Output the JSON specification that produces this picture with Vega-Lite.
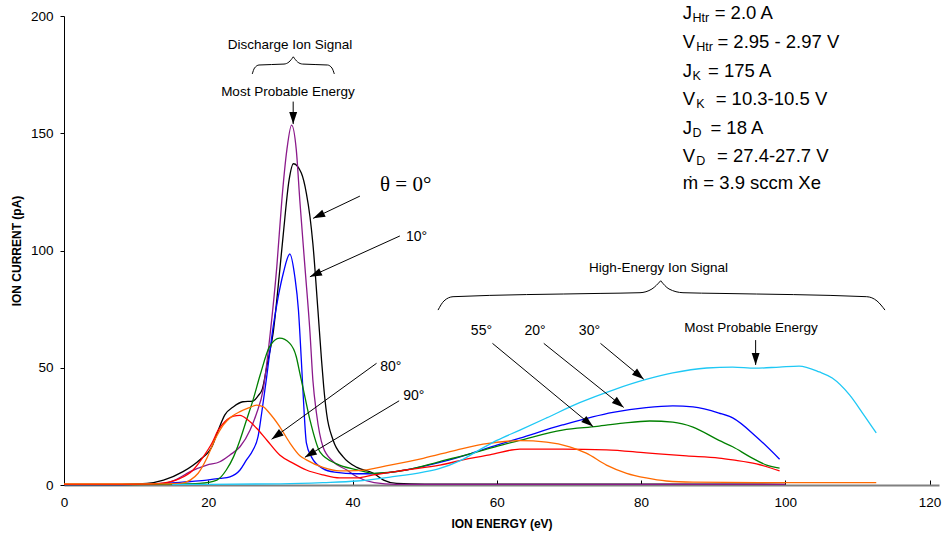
{
  "$schema": "https://vega.github.io/schema/vega-lite/v6.json",
  "width": 875,
  "height": 469,
  "autosize": {"type": "none"},
  "padding": {"left": 64, "top": 16, "right": 4, "bottom": 57},
  "config": {"view": {"stroke": null}, "font": "Liberation Sans"},
  "datasets": {
    "curves": [
      {"s":"k","x":0,"y":0.3},{"s":"k","x":8,"y":0.3},{"s":"k","x":11.5,"y":0.7},{"s":"k","x":13.8,"y":2.1},{"s":"k","x":16.5,"y":5.7},{"s":"k","x":18.8,"y":10.7},{"s":"k","x":20.5,"y":16.3},{"s":"k","x":21.4,"y":23.5},{"s":"k","x":22.3,"y":29.9},{"s":"k","x":23.5,"y":33.4},{"s":"k","x":24.8,"y":35.5},{"s":"k","x":26.2,"y":35.8},{"s":"k","x":26.9,"y":38},{"s":"k","x":27.5,"y":41},{"s":"k","x":28.2,"y":52},{"s":"k","x":29.0,"y":65},{"s":"k","x":29.7,"y":85},{"s":"k","x":30.4,"y":107},{"s":"k","x":31.2,"y":130},{"s":"k","x":31.8,"y":137},{"s":"k","x":32.9,"y":133},{"s":"k","x":33.6,"y":124.4},{"s":"k","x":34.1,"y":114.4},{"s":"k","x":34.5,"y":103},{"s":"k","x":35.2,"y":74.6},{"s":"k","x":35.7,"y":53.3},{"s":"k","x":36.0,"y":42},{"s":"k","x":36.4,"y":30.6},{"s":"k","x":37.3,"y":19.2},{"s":"k","x":38.7,"y":12},{"s":"k","x":40.6,"y":7.5},{"s":"k","x":42.9,"y":5},{"s":"k","x":44.3,"y":2.1},{"s":"k","x":46.1,"y":0.7},{"s":"k","x":50,"y":0.4},{"s":"k","x":70,"y":0.4},{"s":"k","x":100,"y":0.3},
      {"s":"p","x":0,"y":0.2},{"s":"p","x":8,"y":0.2},{"s":"p","x":13.5,"y":0.5},{"s":"p","x":15.4,"y":2.1},{"s":"p","x":17.5,"y":5.7},{"s":"p","x":19.8,"y":8.5},{"s":"p","x":21.6,"y":9.9},{"s":"p","x":23.0,"y":12.8},{"s":"p","x":24.4,"y":16.3},{"s":"p","x":25.8,"y":23.5},{"s":"p","x":26.7,"y":30.6},{"s":"p","x":27.6,"y":40.5},{"s":"p","x":28.6,"y":65},{"s":"p","x":29.5,"y":93},{"s":"p","x":30.2,"y":121.5},{"s":"p","x":30.9,"y":143},{"s":"p","x":31.55,"y":153.5},{"s":"p","x":32.2,"y":143},{"s":"p","x":32.7,"y":121},{"s":"p","x":33.4,"y":93},{"s":"p","x":34.1,"y":65},{"s":"p","x":34.5,"y":44.8},{"s":"p","x":35.0,"y":30.6},{"s":"p","x":35.9,"y":16.3},{"s":"p","x":37.3,"y":10},{"s":"p","x":39.2,"y":6.4},{"s":"p","x":40.6,"y":3.5},{"s":"p","x":43,"y":1},{"s":"p","x":46,"y":0.3},{"s":"p","x":100,"y":0.3},
      {"s":"b","x":0,"y":0.2},{"s":"b","x":8,"y":0.2},{"s":"b","x":14.6,"y":0.8},{"s":"b","x":17.5,"y":1.5},{"s":"b","x":19.8,"y":2.1},{"s":"b","x":21.6,"y":2.8},{"s":"b","x":23,"y":3.5},{"s":"b","x":24.4,"y":6.4},{"s":"b","x":25.3,"y":10.7},{"s":"b","x":26.2,"y":14.9},{"s":"b","x":26.9,"y":20.6},{"s":"b","x":27.4,"y":30.6},{"s":"b","x":28.1,"y":46.2},{"s":"b","x":29.0,"y":67.5},{"s":"b","x":29.7,"y":80.3},{"s":"b","x":30.4,"y":90.3},{"s":"b","x":31.3,"y":98.5},{"s":"b","x":32.0,"y":88.8},{"s":"b","x":32.5,"y":74.6},{"s":"b","x":32.9,"y":53.3},{"s":"b","x":33.2,"y":36},{"s":"b","x":33.6,"y":18},{"s":"b","x":34.3,"y":12},{"s":"b","x":35.9,"y":7},{"s":"b","x":37.5,"y":5.5},{"s":"b","x":40.6,"y":4.8},{"s":"b","x":43,"y":4.8},{"s":"b","x":47.4,"y":6.4},{"s":"b","x":52.1,"y":9.6},{"s":"b","x":56.5,"y":13.5},{"s":"b","x":60,"y":17},{"s":"b","x":63.2,"y":20},{"s":"b","x":69.1,"y":25.6},{"s":"b","x":76.1,"y":31},{"s":"b","x":80.7,"y":33},{"s":"b","x":84.4,"y":33.7},{"s":"b","x":87.2,"y":33.3},{"s":"b","x":90.8,"y":30.7},{"s":"b","x":92.7,"y":28.6},{"s":"b","x":96,"y":20.5},{"s":"b","x":99.2,"y":11},
      {"s":"g","x":0,"y":0.2},{"s":"g","x":8,"y":0.2},{"s":"g","x":15,"y":0.4},{"s":"g","x":18.8,"y":0.7},{"s":"g","x":21.2,"y":2.1},{"s":"g","x":22.5,"y":6.4},{"s":"g","x":23.5,"y":12},{"s":"g","x":24.4,"y":19.2},{"s":"g","x":25.3,"y":27.7},{"s":"g","x":26.2,"y":36.2},{"s":"g","x":27.2,"y":47},{"s":"g","x":28.5,"y":59},{"s":"g","x":29.9,"y":62.6},{"s":"g","x":31.3,"y":60.4},{"s":"g","x":32.2,"y":54.7},{"s":"g","x":32.7,"y":47.6},{"s":"g","x":33.2,"y":40.5},{"s":"g","x":34.1,"y":27.7},{"s":"g","x":35.5,"y":14},{"s":"g","x":37.8,"y":9},{"s":"g","x":40.6,"y":6.5},{"s":"g","x":42.9,"y":5},{"s":"g","x":47.4,"y":6.4},{"s":"g","x":52.1,"y":10},{"s":"g","x":56.5,"y":13.5},{"s":"g","x":60,"y":16.5},{"s":"g","x":63.2,"y":19},{"s":"g","x":69.1,"y":23.4},{"s":"g","x":73.9,"y":25},{"s":"g","x":77.5,"y":26.4},{"s":"g","x":81.2,"y":27.3},{"s":"g","x":84.4,"y":26.8},{"s":"g","x":87.2,"y":24.7},{"s":"g","x":90.8,"y":19},{"s":"g","x":92.7,"y":16.3},{"s":"g","x":95.1,"y":12},{"s":"g","x":97.4,"y":8.5},{"s":"g","x":99.2,"y":7.2},
      {"s":"r","x":0,"y":0.3},{"s":"r","x":8,"y":0.3},{"s":"r","x":11,"y":0.4},{"s":"r","x":13.3,"y":0.7},{"s":"r","x":16.1,"y":2.8},{"s":"r","x":17.9,"y":6.4},{"s":"r","x":19.3,"y":12},{"s":"r","x":20.5,"y":17.8},{"s":"r","x":21.4,"y":23.5},{"s":"r","x":22.3,"y":27},{"s":"r","x":23.5,"y":29.4},{"s":"r","x":24.4,"y":29.7},{"s":"r","x":25.5,"y":27.7},{"s":"r","x":26.7,"y":24.2},{"s":"r","x":28.1,"y":19.2},{"s":"r","x":29.9,"y":12.8},{"s":"r","x":31.8,"y":9.2},{"s":"r","x":33.6,"y":6.4},{"s":"r","x":35.9,"y":4.3},{"s":"r","x":38.2,"y":3},{"s":"r","x":40.6,"y":3},{"s":"r","x":42.9,"y":4.3},{"s":"r","x":47.4,"y":6.4},{"s":"r","x":52.1,"y":8.5},{"s":"r","x":56.5,"y":11.5},{"s":"r","x":59,"y":12.8},{"s":"r","x":63.2,"y":15.3},{"s":"r","x":69.1,"y":15.3},{"s":"r","x":75.2,"y":15},{"s":"r","x":80.7,"y":13.7},{"s":"r","x":86.3,"y":12.4},{"s":"r","x":90.8,"y":11.5},{"s":"r","x":92.7,"y":10.7},{"s":"r","x":96,"y":9},{"s":"r","x":99.2,"y":6},
      {"s":"o","x":0,"y":0.5},{"s":"o","x":8,"y":0.5},{"s":"o","x":14,"y":0.5},{"s":"o","x":16.1,"y":0.7},{"s":"o","x":17.5,"y":2.1},{"s":"o","x":18.6,"y":5},{"s":"o","x":19.8,"y":11.4},{"s":"o","x":20.9,"y":19.2},{"s":"o","x":22.1,"y":25.6},{"s":"o","x":23.2,"y":29.1},{"s":"o","x":24.4,"y":31.3},{"s":"o","x":25.8,"y":33.1},{"s":"o","x":26.7,"y":34.1},{"s":"o","x":27.6,"y":33.4},{"s":"o","x":28.5,"y":30.6},{"s":"o","x":29.9,"y":24.9},{"s":"o","x":31.3,"y":18},{"s":"o","x":32.7,"y":12.5},{"s":"o","x":33.6,"y":10.7},{"s":"o","x":35.9,"y":7.5},{"s":"o","x":38.2,"y":6},{"s":"o","x":40.6,"y":6.1},{"s":"o","x":45.2,"y":8.5},{"s":"o","x":49.8,"y":11.4},{"s":"o","x":54.4,"y":14.9},{"s":"o","x":58.1,"y":17.4},{"s":"o","x":63.2,"y":18.9},{"s":"o","x":66.9,"y":18.3},{"s":"o","x":70.1,"y":16.3},{"s":"o","x":72.4,"y":13.6},{"s":"o","x":75.2,"y":8.5},{"s":"o","x":78,"y":5},{"s":"o","x":80.7,"y":3},{"s":"o","x":83.5,"y":1.7},{"s":"o","x":87.2,"y":1.2},{"s":"o","x":100,"y":1},{"s":"o","x":112.6,"y":1},
      {"s":"c","x":15,"y":0.2},{"s":"c","x":20,"y":0.3},{"s":"c","x":30,"y":0.5},{"s":"c","x":35.9,"y":1},{"s":"c","x":40.6,"y":1.7},{"s":"c","x":45.2,"y":3.4},{"s":"c","x":49.8,"y":5.5},{"s":"c","x":52,"y":7},{"s":"c","x":55,"y":10.5},{"s":"c","x":57.6,"y":15},{"s":"c","x":60,"y":19},{"s":"c","x":63.2,"y":23.4},{"s":"c","x":66.9,"y":28.6},{"s":"c","x":71.4,"y":35},{"s":"c","x":76.1,"y":40.5},{"s":"c","x":80.7,"y":45},{"s":"c","x":84.4,"y":47.8},{"s":"c","x":89.1,"y":49.9},{"s":"c","x":92.7,"y":50.3},{"s":"c","x":95.8,"y":49.8},{"s":"c","x":99.2,"y":50.3},{"s":"c","x":101.9,"y":50.7},{"s":"c","x":104.7,"y":48.2},{"s":"c","x":106.5,"y":45.6},{"s":"c","x":108.9,"y":38.4},{"s":"c","x":110.7,"y":30.7},{"s":"c","x":112.6,"y":22.2}
    ],
    "arrows": [
      {"x":31.77,"y":163.5,"x2":31.77,"y2":153.9},
      {"x":41.02,"y":123.2,"x2":34.54,"y2":113.7},
      {"x":46.56,"y":106.2,"x2":34.09,"y2":88.8},
      {"x":43.33,"y":51.9,"x2":28.78,"y2":19.5},
      {"x":46.46,"y":35.9,"x2":33.39,"y2":11.8},
      {"x":59.40,"y":60.4,"x2":73.34,"y2":24.9},
      {"x":66.51,"y":60.4,"x2":77.59,"y2":33.1},
      {"x":74.37,"y":60.4,"x2":80.37,"y2":45.1},
      {"x":95.88,"y":61.8,"x2":95.88,"y2":51.2}
    ],
    "braces": [
      {"b":"1L","x":26.10,"y":175.3},{"b":"1L","x":26.41,"y":177.8},{"b":"1L","x":27.03,"y":179.1},{"b":"1L","x":30.50,"y":179.5},{"b":"1L","x":31.19,"y":180.4},{"b":"1L","x":31.79,"y":182.6},
      {"b":"1R","x":31.79,"y":182.6},{"b":"1R","x":32.38,"y":180.4},{"b":"1R","x":33.08,"y":179.5},{"b":"1R","x":36.54,"y":179.1},{"b":"1R","x":37.15,"y":177.8},{"b":"1R","x":37.47,"y":175.3},
      {"b":"2L","x":51.85,"y":74.6},{"b":"2L","x":52.68,"y":78.5},{"b":"2L","x":53.93,"y":80.3},{"b":"2L","x":74.31,"y":81.7},{"b":"2L","x":79.85,"y":82.0},{"b":"2L","x":81.51,"y":83.6},{"b":"2L","x":82.72,"y":87.1},
      {"b":"2R","x":82.72,"y":87.1},{"b":"2R","x":83.87,"y":83.6},{"b":"2R","x":85.81,"y":82.0},{"b":"2R","x":90.94,"y":81.7},{"b":"2R","x":111.28,"y":80.3},{"b":"2R","x":112.70,"y":78.5},{"b":"2R","x":113.81,"y":74.6}
    ],
    "labels": [
      {"k":"a","x":31.32,"y":187.6,"t":"Discharge Ion Signal"},
      {"k":"a","x":31.04,"y":167.7,"t":"Most Probable Energy"},
      {"k":"th","x":47.37,"y":127.9,"t":"θ = 0°"},
      {"k":"d","x":48.87,"y":105.6,"t":"10°"},
      {"k":"d","x":45.3,"y":50.4,"t":"80°"},
      {"k":"d","x":48.5,"y":38.0,"t":"90°"},
      {"k":"a","x":82.42,"y":92.4,"t":"High-Energy Ion Signal"},
      {"k":"d","x":57.87,"y":65.7,"t":"55°"},
      {"k":"d","x":65.3,"y":65.7,"t":"20°"},
      {"k":"d","x":72.84,"y":65.7,"t":"30°"},
      {"k":"a","x":95.24,"y":66.8,"t":"Most Probable Energy"}
    ],
    "params": [
      {"k":"m","x":85.77,"y":201.2,"t":"J"},{"k":"s","x":87.13,"y":201.2,"t":"Htr"},{"k":"m","x":90.2,"y":201.2,"t":"= 2.0 A"},
      {"k":"m","x":85.77,"y":189.0,"t":"V"},{"k":"s","x":87.65,"y":189.0,"t":"Htr"},{"k":"m","x":90.58,"y":189.0,"t":"= 2.95 - 2.97 V"},
      {"k":"m","x":85.77,"y":176.7,"t":"J"},{"k":"s","x":87.13,"y":176.7,"t":"K"},{"k":"m","x":89.28,"y":176.7,"t":"= 175 A"},
      {"k":"m","x":85.77,"y":164.6,"t":"V"},{"k":"s","x":87.65,"y":164.6,"t":"K"},{"k":"m","x":90.34,"y":164.6,"t":"= 10.3-10.5 V"},
      {"k":"m","x":85.77,"y":152.4,"t":"J"},{"k":"s","x":87.13,"y":152.4,"t":"D"},{"k":"m","x":89.61,"y":152.4,"t":"= 18 A"},
      {"k":"m","x":85.77,"y":140.4,"t":"V"},{"k":"s","x":87.65,"y":140.4,"t":"D"},{"k":"m","x":90.52,"y":140.4,"t":"= 27.4-27.7 V"},
      {"k":"m","x":85.77,"y":128.7,"t":"ṁ = 3.9 sccm Xe"}
    ]
  },
  "layer": [
    {
      "data": {"name": "curves"},
      "mark": {"type": "line", "strokeWidth": 1.3, "interpolate": "monotone"},
      "encoding": {
        "x": {"field": "x", "type": "quantitative", "scale": {"domain": [0, 121.3], "nice": false, "zero": false},
          "axis": {"title": "ION ENERGY (eV)", "values": [0,20,40,60,80,100,120], "grid": false, "labelFlush": false, "domainColor": "#808080", "domainWidth": 2, "tickColor": "#000000", "tickSize": -5, "tickWidth": 1, "labelFontSize": 13.5, "labelColor": "#000000", "labelPadding": 15, "titleFontSize": 12, "titleFontWeight": "bold", "titleColor": "#000000", "titlePadding": 10, "labelFont": "Liberation Sans", "titleFont": "Liberation Sans"}},
        "y": {"field": "y", "type": "quantitative", "scale": {"domain": [0, 200], "nice": false},
          "axis": {"title": "ION CURRENT (pA)", "values": [0,50,100,150,200], "grid": false, "labelFlush": false, "domainColor": "#000000", "domainWidth": 1, "tickColor": "#000000", "tickSize": 4, "labelFontSize": 13.5, "labelColor": "#000000", "labelPadding": 7, "titleFontSize": 12, "titleFontWeight": "bold", "titleColor": "#000000", "titlePadding": 7, "labelFont": "Liberation Sans", "titleFont": "Liberation Sans"}},
        "color": {"field": "s", "type": "nominal", "legend": null,
          "scale": {"domain": ["k","p","b","g","r","o","c"], "range": ["#000000","#8B1A8B","#0000FF","#008000","#FF0000","#FF6A00","#1EC8F5"]}}
      }
    },
    {
      "data": {"name": "braces"},
      "mark": {"type": "line", "color": "#000000", "strokeWidth": 1, "interpolate": "monotone"},
      "encoding": {
        "x": {"field": "x", "type": "quantitative"},
        "y": {"field": "y", "type": "quantitative"},
        "detail": {"field": "b", "type": "nominal"}
      }
    },
    {
      "data": {"name": "arrows"},
      "mark": {"type": "rule", "color": "#000000", "strokeWidth": 1},
      "encoding": {
        "x": {"field": "x", "type": "quantitative"},
        "y": {"field": "y", "type": "quantitative"},
        "x2": {"field": "x2"},
        "y2": {"field": "y2"}
      }
    },
    {
      "data": {"name": "arrows"},
      "transform": [{"calculate": "atan2((datum.x2 - datum.x) * 7.2135, (datum.y2 - datum.y) * 2.345) * 180 / PI", "as": "ang"}],
      "mark": {"type": "point", "shape": "M0,0L0.33,1L-0.33,1Z", "filled": true, "size": 576, "color": "#000000", "opacity": 1, "strokeWidth": 0},
      "encoding": {
        "x": {"field": "x2", "type": "quantitative"},
        "y": {"field": "y2", "type": "quantitative"},
        "angle": {"field": "ang", "type": "quantitative", "scale": null}
      }
    },
    {
      "data": {"name": "labels"},
      "transform": [{"filter": "datum.k == 'a'"}],
      "mark": {"type": "text", "font": "Liberation Sans", "fontSize": 13.5, "align": "center", "baseline": "middle", "color": "#000000"},
      "encoding": {
        "x": {"field": "x", "type": "quantitative"},
        "y": {"field": "y", "type": "quantitative"},
        "text": {"field": "t"}
      }
    },
    {
      "data": {"name": "labels"},
      "transform": [{"filter": "datum.k == 'd'"}],
      "mark": {"type": "text", "font": "Liberation Sans", "fontSize": 14, "align": "center", "baseline": "middle", "color": "#000000"},
      "encoding": {
        "x": {"field": "x", "type": "quantitative"},
        "y": {"field": "y", "type": "quantitative"},
        "text": {"field": "t"}
      }
    },
    {
      "data": {"name": "labels"},
      "transform": [{"filter": "datum.k == 'th'"}],
      "mark": {"type": "text", "font": "Liberation Serif", "fontSize": 21, "align": "center", "baseline": "middle", "color": "#000000"},
      "encoding": {
        "x": {"field": "x", "type": "quantitative"},
        "y": {"field": "y", "type": "quantitative"},
        "text": {"field": "t"}
      }
    },
    {
      "data": {"name": "params"},
      "transform": [{"filter": "datum.k == 'm'"}],
      "mark": {"type": "text", "font": "Liberation Sans", "fontSize": 18.5, "align": "left", "baseline": "middle", "color": "#000000"},
      "encoding": {
        "x": {"field": "x", "type": "quantitative"},
        "y": {"field": "y", "type": "quantitative"},
        "text": {"field": "t"}
      }
    },
    {
      "data": {"name": "params"},
      "transform": [{"filter": "datum.k == 's'"}],
      "mark": {"type": "text", "font": "Liberation Sans", "fontSize": 12.5, "align": "left", "baseline": "middle", "dy": 5, "color": "#000000"},
      "encoding": {
        "x": {"field": "x", "type": "quantitative"},
        "y": {"field": "y", "type": "quantitative"},
        "text": {"field": "t"}
      }
    }
  ]
}
